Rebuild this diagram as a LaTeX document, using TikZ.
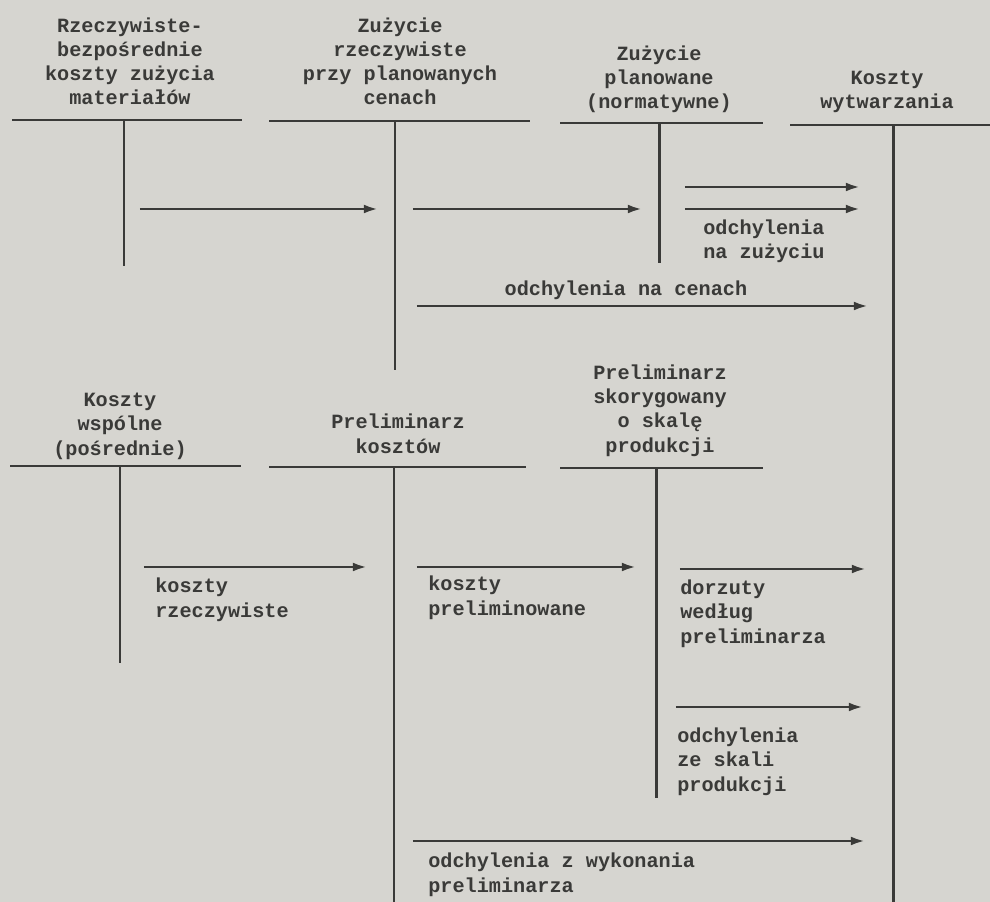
\documentclass[tikz,border=0pt]{standalone}
\usepackage{fontspec}
\setmainfont{Liberation Mono}
\usetikzlibrary{arrows.meta}
\definecolor{paper}{RGB}{214,213,208}
\definecolor{ink}{RGB}{58,58,56}

\begin{document}
\begin{tikzpicture}[scale=0.2]
 	\tikzstyle{every node}+=[inner sep=0pt, text=ink, font=\fontsize{11.5}{13.7}\selectfont\bfseries]
 	\tikzstyle{head}=[align=center, anchor=base]
 	\tikzstyle{note}=[align=left, anchor=base west]
 	\tikzstyle{acct}=[ink, line width=1.7pt]
 	\tikzstyle{flow}=[ink, line width=1.5pt, -{Latex[length=8pt,width=5pt]}]
 	\fill [paper] (0,0) rectangle (99,-90.2);
 	\useasboundingbox (0,0) rectangle (99,-90.2);
 	% gorny rzad kont
 	\node [head] (mat) at (13.0,-10.5) {Rzeczywiste-\\bezpośrednie\\koszty zużycia\\materiałów};
 	\draw [acct] (1.2,-12.0) -- (24.2,-12.0);
 	\draw [acct] (12.4,-12.0) -- (12.4,-26.6);
 	\node [head] (zrz) at (40.0,-10.5) {Zużycie\\rzeczywiste\\przy planowanych\\cenach};
 	\draw [acct] (26.9,-12.1) -- (53.0,-12.1);
 	\draw [acct] (39.5,-12.1) -- (39.5,-37.0);
 	\node [head] (zpl) at (65.9,-10.9) {Zużycie\\planowane\\(normatywne)};
 	\draw [acct] (56.0,-12.3) -- (76.3,-12.3);
 	\draw [acct] (65.9,-12.3) -- (65.9,-26.3);
 	\node [head] (kw) at (88.7,-10.9) {Koszty\\wytwarzania};
 	\draw [acct] (79.0,-12.5) -- (99.0,-12.5);
 	\draw [acct] (89.3,-12.5) -- (89.3,-90.2);
 	% dolny rzad kont
 	\node [head] (kwsp) at (12.0,-45.5) {Koszty\\wspólne\\(pośrednie)};
 	\draw [acct] (1.0,-46.6) -- (24.1,-46.6);
 	\draw [acct] (12.0,-46.6) -- (12.0,-66.3);
 	\node [head] (prel) at (39.8,-45.3) {Preliminarz\\kosztów};
 	\draw [acct] (26.9,-46.7) -- (52.6,-46.7);
 	\draw [acct] (39.4,-46.7) -- (39.4,-90.2);
 	\node [head] (pkor) at (66.0,-45.2) {Preliminarz\\skorygowany\\o skalę\\produkcji};
 	\draw [acct] (56.0,-46.8) -- (76.3,-46.8);
 	\draw [acct] (65.6,-46.8) -- (65.6,-79.8);
 	% przeplywy
 	\coordinate (a1) at (14.0,-20.9); \coordinate (b1) at (37.8,-20.9);
 	\coordinate (a2) at (41.3,-20.9); \coordinate (b2) at (64.2,-20.9);
 	\coordinate (a3) at (68.5,-18.7); \coordinate (b3) at (86.0,-18.7);
 	\coordinate (a4) at (68.5,-20.9); \coordinate (b4) at (86.0,-20.9);
 	\coordinate (a5) at (41.7,-30.6); \coordinate (b5) at (86.8,-30.6);
 	\coordinate (a6) at (14.4,-56.7); \coordinate (b6) at (36.7,-56.7);
 	\coordinate (a7) at (41.7,-56.7); \coordinate (b7) at (63.6,-56.7);
 	\coordinate (a8) at (68.0,-56.9); \coordinate (b8) at (86.6,-56.9);
 	\coordinate (a9) at (67.6,-70.7); \coordinate (b9) at (86.3,-70.7);
 	\coordinate (a10) at (41.3,-84.1); \coordinate (b10) at (86.5,-84.1);
 	\foreach \i in {1,...,10}
 		\draw [flow] (a\i) -- (b\i);
 	\node [note] (ozu) at (70.3,-25.9) {odchylenia\\na zużyciu};
 	\node [head] (oce) at (62.6,-29.5) {odchylenia na cenach};
 	\node [note] (krz) at (15.5,-61.7) {koszty\\rzeczywiste};
 	\node [note] (kpr) at (42.8,-61.5) {koszty\\preliminowane};
 	\node [note] (dor) at (68.0,-64.3) {dorzuty\\według\\preliminarza};
 	\node [note] (osk) at (67.7,-79.1) {odchylenia\\ze skali\\produkcji};
 	\node [note] (owy) at (42.8,-89.2) {odchylenia z wykonania\\preliminarza};
\end{tikzpicture}
\end{document}
